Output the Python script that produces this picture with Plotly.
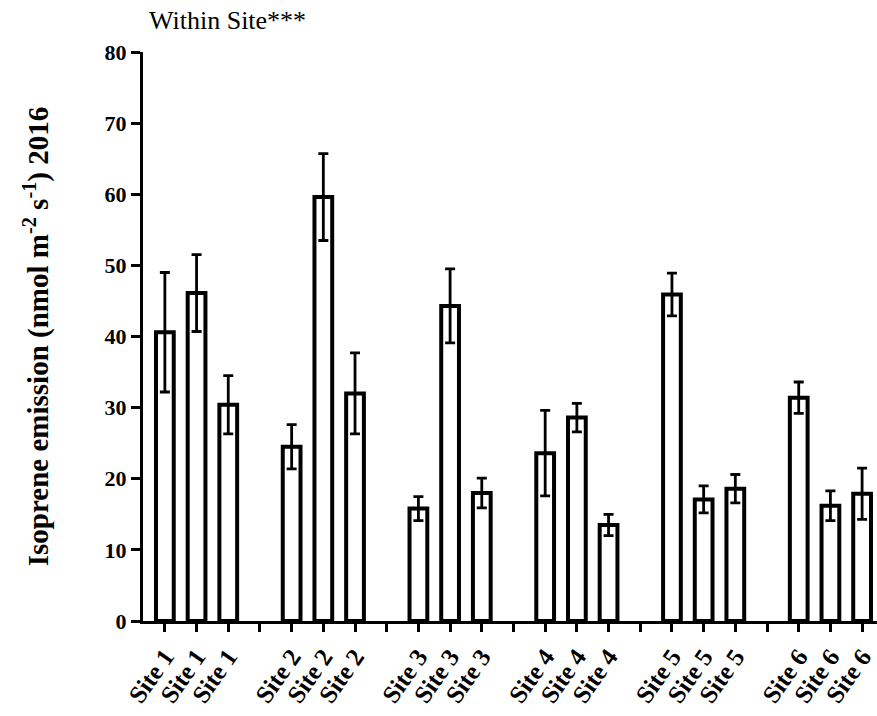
import plotly.graph_objects as go

# Isoprene emission per site, three measurements per site (mean and error)
sites = ["Site 1", "Site 2", "Site 3", "Site 4", "Site 5", "Site 6"]
emission = [
    [40.6, 46.1, 30.4],
    [24.5, 59.6, 32.0],
    [15.8, 44.3, 18.0],
    [23.6, 28.6, 13.5],
    [45.9, 17.1, 18.6],
    [31.4, 16.2, 17.9],
]
error = [
    [8.4, 5.4, 4.1],
    [3.1, 6.1, 5.7],
    [1.7, 5.2, 2.1],
    [6.0, 2.0, 1.5],
    [3.0, 1.9, 2.0],
    [2.2, 2.1, 3.6],
]
y_ticks = [0, 10, 20, 30, 40, 50, 60, 70, 80]

# Each site occupies three slots followed by an empty (unlabelled) slot
slot = 4
xs, ys, es = [], [], []
tickvals, ticktext, gap_ticks = [], [], []
for g, site in enumerate(sites):
    for i in range(3):
        xs.append(g * slot + i)
        ys.append(emission[g][i])
        es.append(error[g][i])
        tickvals.append(g * slot + i)
        ticktext.append(site)
    if g < len(sites) - 1:
        gap_ticks.append(g * slot + 3)

serif = "Liberation Serif, Times New Roman, serif"

fig = go.Figure(
    go.Bar(
        x=xs,
        y=ys,
        width=0.56,
        marker=dict(color="white", line=dict(color="black", width=4)),
        error_y=dict(type="data", array=es, visible=True,
                     color="black", thickness=2.8, width=5),
    )
)

fig.update_layout(
    width=877,
    height=716,
    margin=dict(l=143, r=0, t=52, b=95),
    paper_bgcolor="white",
    plot_bgcolor="white",
    showlegend=False,
    font=dict(family=serif, color="black"),
    xaxis=dict(
        range=[-0.69, 22.47],
        tickmode="array",
        tickvals=tickvals,
        ticktext=ticktext,
        tickangle=-55,
        ticks="outside",
        ticklen=8,
        tickwidth=3,
        tickcolor="black",
        tickfont=dict(family=serif, size=25, weight="bold", color="black"),
        minor=dict(
            tickmode="array",
            tickvals=gap_ticks,
            ticks="outside",
            ticklen=8,
            tickwidth=3,
            tickcolor="black",
            showgrid=False,
        ),
        showline=True,
        linecolor="black",
        linewidth=3,
        showgrid=False,
        zeroline=False,
    ),
    yaxis=dict(
        range=[0, 80],
        tickmode="array",
        tickvals=y_ticks,
        ticks="outside",
        ticklen=9,
        tickwidth=3,
        tickcolor="black",
        tickfont=dict(family=serif, size=22, weight="bold", color="black"),
        showline=True,
        linecolor="black",
        linewidth=3,
        showgrid=False,
        zeroline=False,
        title=dict(
            text="Isoprene emission (nmol m<sup>-2</sup> s<sup>-1</sup>) 2016",
            font=dict(family=serif, size=29, weight="bold", color="black"),
            standoff=48,
        ),
    ),
    annotations=[
        dict(
            text="Within Site***",
            xref="paper", yref="paper",
            x=0.005, y=1.056,
            xanchor="left", yanchor="middle",
            showarrow=False,
            font=dict(family=serif, size=26, color="black"),
        )
    ],
)

fig.write_html("out.html")
